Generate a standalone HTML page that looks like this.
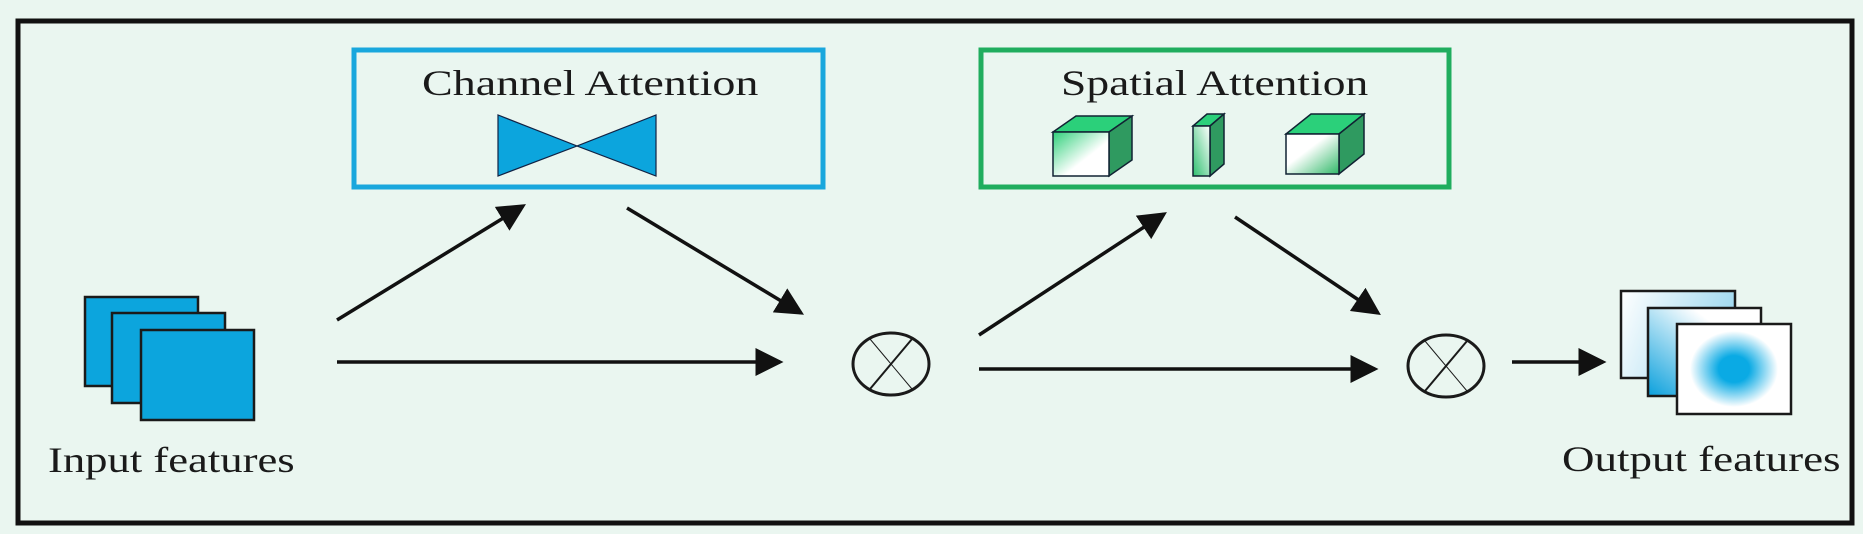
<!DOCTYPE html>
<html><head><meta charset="utf-8"><style>
html,body{margin:0;padding:0;background:#eaf6f0;}
svg{display:block;}
text{font-family:"Liberation Serif",serif;fill:#1a1a1a;}
</style></head><body>
<svg width="1863" height="534" viewBox="0 0 1863 534" xmlns="http://www.w3.org/2000/svg">
<defs>
<marker id="ah" markerWidth="8" markerHeight="8" refX="7" refY="4" orient="auto" markerUnits="strokeWidth">
<path d="M0,0 L8,4 L0,8 z" fill="#111"/></marker>
<linearGradient id="g1" x1="0" y1="0" x2="1" y2="1"><stop offset="0" stop-color="#2fd07a"/><stop offset="0.6" stop-color="#fff"/></linearGradient>
<linearGradient id="g2" x1="1" y1="0" x2="0" y2="1"><stop offset="0" stop-color="#fff"/><stop offset="1" stop-color="#2fc070"/></linearGradient>
<linearGradient id="g3" x1="1" y1="1" x2="0" y2="0"><stop offset="0" stop-color="#30b868"/><stop offset="0.6" stop-color="#fff"/></linearGradient>
<linearGradient id="ob1" x1="0" y1="0" x2="1" y2="0.3"><stop offset="0" stop-color="#fff"/><stop offset="1" stop-color="#9ed8ef"/></linearGradient>
<linearGradient id="ob2" x1="1" y1="0" x2="0" y2="1"><stop offset="0.3" stop-color="#fff"/><stop offset="1" stop-color="#0aa0dc"/></linearGradient>
<radialGradient id="ob3" cx="0.5" cy="0.5" r="0.5"><stop offset="0.35" stop-color="#0aaae4"/><stop offset="1" stop-color="#fff"/></radialGradient>
</defs>
<rect x="0" y="0" width="1863" height="534" fill="#eaf6f0"/>
<rect x="18" y="21" width="1834" height="502" fill="none" stroke="#111" stroke-width="5"/>

<rect x="354" y="50" width="469" height="137" fill="none" stroke="#19a7dd" stroke-width="5"/>
<text transform="translate(422,95) scale(1.28,1)" font-size="36">Channel Attention</text>
<path d="M498,115 L498,176 L577,146 Z M656,115 L656,176 L577,146 Z" fill="#0ca5dd" stroke="#124" stroke-width="1.2"/>

<rect x="981" y="50" width="468" height="137" fill="none" stroke="#20ad5e" stroke-width="5"/>
<text transform="translate(1061,95) scale(1.265,1)" font-size="36">Spatial Attention</text>
<g stroke="#123" stroke-width="1.5">
<path d="M1053,132 L1076,116 L1132,116 L1109,132 Z" fill="#2bd07a"/>
<path d="M1109,132 L1132,116 L1132,160 L1109,176 Z" fill="#2f9a60"/>
<rect x="1053" y="132" width="56" height="44" fill="url(#g1)"/>
<path d="M1193,126 L1207,114 L1224,114 L1210,126 Z" fill="#2bd07a"/>
<path d="M1210,126 L1224,114 L1224,164 L1210,176 Z" fill="#2f9a60"/>
<rect x="1193" y="126" width="17" height="50" fill="url(#g2)"/>
<path d="M1286,134 L1311,114 L1364,114 L1339,134 Z" fill="#2bd07a"/>
<path d="M1339,134 L1364,114 L1364,154 L1339,174 Z" fill="#2f9a60"/>
<rect x="1286" y="134" width="53" height="40" fill="url(#g3)"/>
</g>

<g stroke="#1a1a1a" stroke-width="2.5" fill="#0ca5dd">
<rect x="85" y="297" width="113" height="89"/>
<rect x="112" y="313" width="113" height="90"/>
<rect x="141" y="330" width="113" height="90"/>
</g>
<text transform="translate(48,472) scale(1.24,1)" font-size="36">Input features</text>

<g stroke="#111" stroke-width="3.5" fill="none" marker-end="url(#ah)">
<line x1="337" y1="320" x2="523" y2="206"/>
<line x1="337" y1="362" x2="780" y2="362"/>
<line x1="627" y1="208" x2="801" y2="313"/>
<line x1="979" y1="335" x2="1164" y2="214"/>
<line x1="979" y1="369" x2="1375" y2="369"/>
<line x1="1235" y1="217" x2="1378" y2="313"/>
<line x1="1512" y1="362" x2="1603" y2="362"/>
</g>

<g stroke="#1a1a1a" fill="none">
<ellipse cx="891" cy="364" rx="38" ry="31" stroke-width="3"/>
<line x1="870" y1="389" x2="912" y2="339" stroke-width="2"/>
<line x1="870" y1="339" x2="912" y2="389" stroke-width="1"/>
<ellipse cx="1446" cy="366" rx="38" ry="31" stroke-width="3"/>
<line x1="1425" y1="391" x2="1467" y2="341" stroke-width="2"/>
<line x1="1425" y1="341" x2="1467" y2="391" stroke-width="1"/>
</g>

<g stroke="#1a1a1a" stroke-width="2.5">
<rect x="1621" y="291" width="114" height="87" fill="url(#ob1)"/>
<rect x="1648" y="308" width="113" height="88" fill="url(#ob2)"/>
<rect x="1677" y="324" width="114" height="90" fill="#fff"/>
</g>
<ellipse cx="1734" cy="369" rx="44" ry="38" fill="url(#ob3)"/>
<text transform="translate(1562,471) scale(1.25,1)" font-size="36">Output features</text>
</svg>
</body></html>
